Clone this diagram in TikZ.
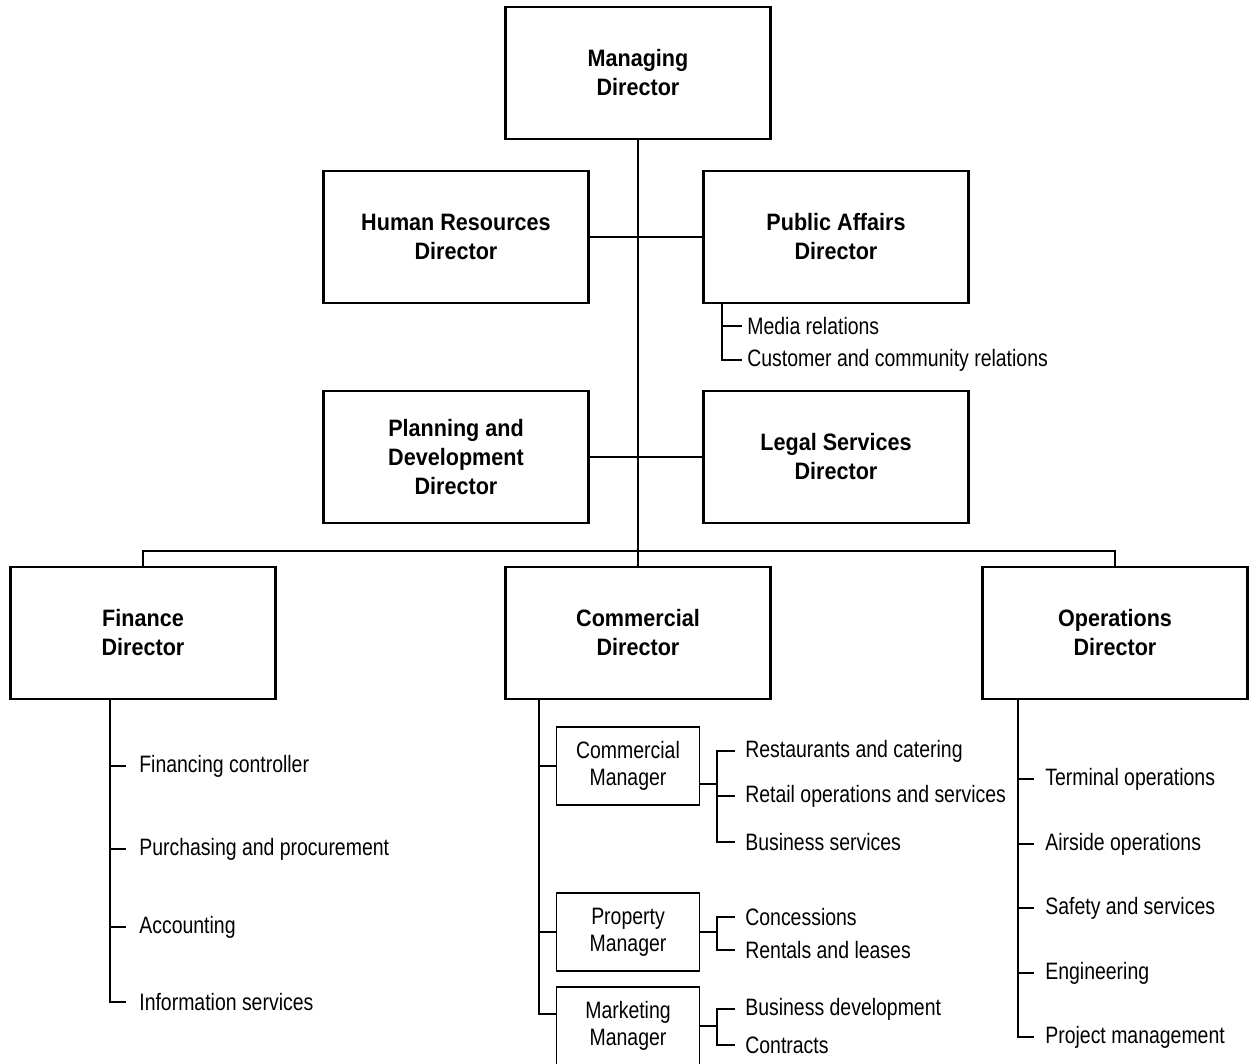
\documentclass[tikz,border=0pt]{standalone}
\usepackage{fontspec}
\setmainfont{Liberation Sans}[FakeStretch=0.82]
\newfontfamily\headfont{Liberation Sans}[FakeStretch=0.91]

\begin{document}
\begin{tikzpicture}[
    x=0.02cm, y=-0.02cm,
    director/.style={rectangle, draw, line width=1.6pt, minimum width=5.3cm, minimum height=2.64cm, align=center, font=\fontsize{13.5pt}{16.5pt}\headfont\bfseries},
    manager/.style={rectangle, draw, line width=1pt, minimum width=2.86cm, minimum height=1.56cm, align=center, font=\fontsize{13.5pt}{15.4pt}\selectfont},
    duty/.style={anchor=west, inner xsep=#1, inner ysep=0pt, font=\fontsize{13.5pt}{16pt}\selectfont},
    duty/.default=0.22cm,
    link/.style={line width=0.8pt},
    trunk/.style={line width=1.4pt}
]
    \useasboundingbox (0,0) rectangle (1249,1063);

    % Directors
    \node[director] (md) at (638,73) {Managing\\Director};
    \node[director] (hr) at (456,237) {Human Resources\\Director};
    \node[director] (pa) at (836,237) {Public Affairs\\Director};
    \node[director] (pd) at (456,457) {Planning and\\Development\\Director};
    \node[director] (ls) at (836,457) {Legal Services\\Director};
    \node[director] (fd) at (143,633) {Finance\\Director};
    \node[director] (cd) at (638,633) {Commercial\\Director};
    \node[director] (od) at (1115,633) {Operations\\Director};

    % Managers
    \node[manager] (cm) at (628,766) {Commercial\\Manager};
    \node[manager] (pm) at (628,932) {Property\\Manager};
    \node[manager] (mm) at (628,1026) {Marketing\\Manager};

    % Duties
    \node[duty=0.1cm] (pa1) at (742,326) {Media relations};
    \node[duty=0.1cm] (pa2) at (742,360) {Customer and community relations};

    \node[duty=0.26cm] (fi1) at (126,766) {Financing controller};
    \node[duty=0.26cm] (fi2) at (126,849) {Purchasing and procurement};
    \node[duty=0.26cm] (fi3) at (126,927) {Accounting};
    \node[duty=0.26cm] (fi4) at (126,1002) {Information services};

    \node[duty=0.2cm] (cm1) at (735,751) {Restaurants and catering};
    \node[duty=0.2cm] (cm2) at (735,796) {Retail operations and services};
    \node[duty=0.2cm] (cm3) at (735,842) {Business services};
    \node[duty=0.2cm] (pm1) at (735,917) {Concessions};
    \node[duty=0.2cm] (pm2) at (735,950) {Rentals and leases};
    \node[duty=0.2cm] (mm1) at (735,1009) {Business development};
    \node[duty=0.2cm] (mm2) at (735,1045) {Contracts};

    \node[duty] (op1) at (1034,779) {Terminal operations};
    \node[duty] (op2) at (1034,844) {Airside operations};
    \node[duty] (op3) at (1034,908) {Safety and services};
    \node[duty] (op4) at (1034,973) {Engineering};
    \node[duty] (op5) at (1034,1037) {Project management};

    % Main lines
    \coordinate (bar) at (638,551);
    \draw[link] (md.south) -- (cd.north);
    \draw[link] (hr) -- (pa);
    \draw[link] (pd) -- (ls);
    \draw[link] (fd.north) |- (bar) -| (od.north);

    % Public affairs
    \coordinate (paT) at (722,0);
    \draw[link] (pa.south -| paT) |- (pa2.west);
    \draw[link] (pa1.west -| paT) -- (pa1.west);

    % Finance
    \coordinate (fdT) at (110,0);
    \draw[trunk] (fd.south -| fdT) |- (fi4.west);
    \foreach \i in {1,2,3}
        \draw[link] (fi\i.west -| fdT) -- (fi\i.west);

    % Commercial
    \coordinate (cdT) at (539,0);
    \coordinate (mmL) at ([yshift=0.24cm]mm.west);
    \draw[link] (cd.south -| cdT) |- (mmL);
    \foreach \m in {cm,pm}
        \draw[link] (\m.west -| cdT) -- (\m.west);

    \coordinate (cmB) at (717,0);
    \coordinate (cmR) at ([yshift=-0.36cm]cm.east);
    \draw[link] (cmR) -- (cmR -| cmB);
    \draw[link] (cm1.west) -| (cm3.west -| cmB) -- (cm3.west);
    \draw[link] (cm2.west -| cmB) -- (cm2.west);
    \draw[link] (pm.east) -- (pm.east -| cmB);
    \draw[link] (pm1.west) -| (pm2.west -| cmB) -- (pm2.west);
    \draw[link] (mm.east) -- (mm.east -| cmB);
    \draw[link] (mm1.west) -| (mm2.west -| cmB) -- (mm2.west);

    % Operations
    \coordinate (odT) at (1018,0);
    \draw[link] (od.south -| odT) |- (op5.west);
    \foreach \i in {1,...,4}
        \draw[link] (op\i.west -| odT) -- (op\i.west);
\end{tikzpicture}
\end{document}
